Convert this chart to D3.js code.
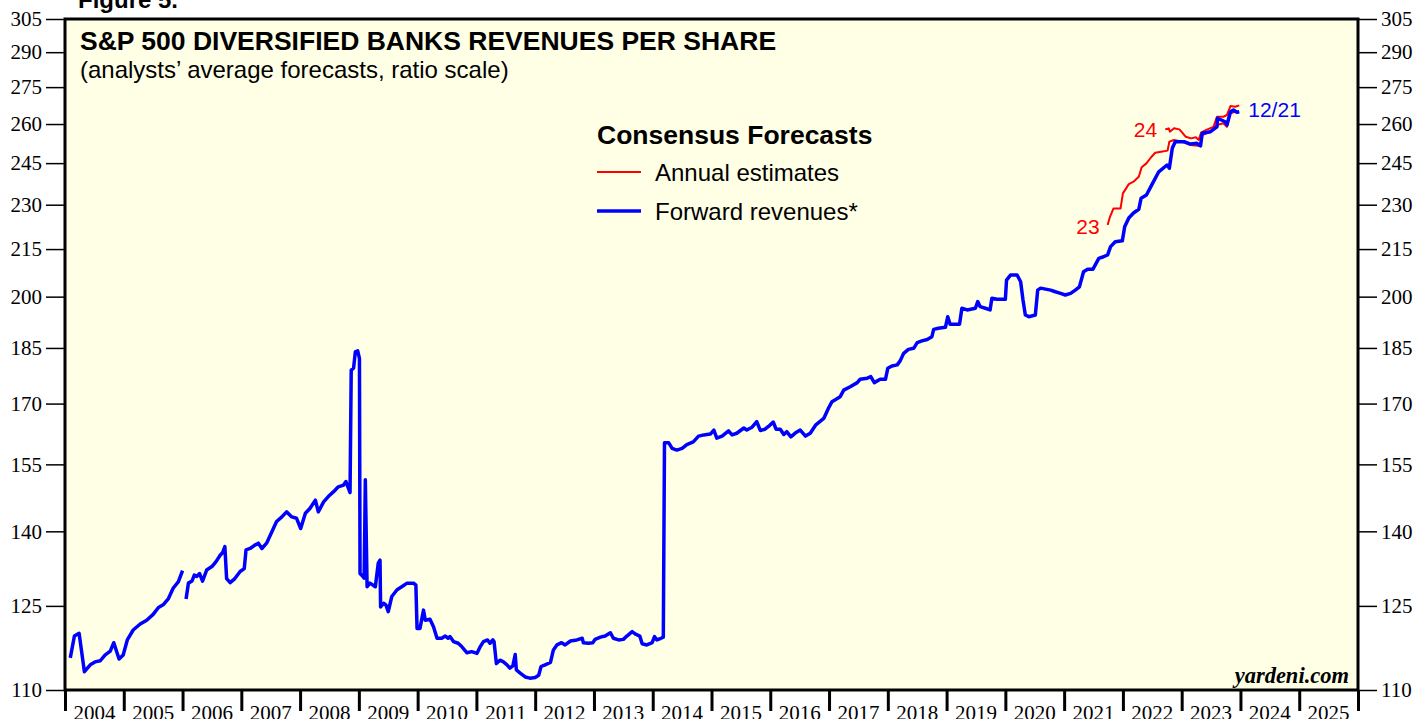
<!DOCTYPE html>
<html lang="en">
<head>
<meta charset="UTF-8">
<title>S&amp;P 500 Diversified Banks Revenues per Share</title>
<script src="https://cdn.jsdelivr.net/npm/d3@7"></script>
<style>
  body { margin: 0; background: #fff; }
  text { font-family: "Liberation Sans", Arial, sans-serif; }
  .tick-lbl { font-family: "Liberation Serif", "Times New Roman", serif; font-size: 21px; }
</style>
</head>
<body>
<div id="chart"></div>
<script>

// forward revenues, [decimal year, value] - first piece ends at the 2006 break
var fwdPart1 = [
  [2004.09,115.5],[2004.16,119.4],[2004.24,119.9],[2004.33,113.1],[2004.43,114.3],[2004.51,114.8],
  [2004.60,115.0],[2004.68,116.0],[2004.77,116.7],[2004.83,118.2],[2004.92,115.3],[2004.99,116.0],
  [2005.06,118.7],[2005.16,120.5],[2005.28,121.6],[2005.39,122.3],[2005.50,123.4],[2005.59,124.7],
  [2005.67,125.2],[2005.76,126.4],[2005.84,128.4],[2005.93,129.7],[2006.00,131.9]
];

var fwdPart2 = [
  [2006.06,126.3],[2006.10,129.4],[2006.16,129.8],[2006.20,131.0],[2006.24,130.7],[2006.29,131.3],
  [2006.34,129.8],[2006.41,132.0],[2006.50,132.7],[2006.57,133.7],[2006.64,135.0],[2006.68,135.5],
  [2006.72,136.8],[2006.75,130.3],[2006.81,129.5],[2006.89,130.3],[2006.98,131.7],[2007.05,132.3],
  [2007.08,136.1],[2007.15,136.4],[2007.23,137.1],[2007.29,137.5],[2007.35,136.4],[2007.43,137.5],
  [2007.52,139.9],[2007.60,142.1],[2007.69,143.1],[2007.77,144.2],[2007.86,143.1],[2007.94,142.8],
  [2008.01,140.6],[2008.09,143.9],[2008.17,145.0],[2008.26,146.8],[2008.31,144.2],[2008.40,146.4],
  [2008.48,147.6],[2008.57,148.7],[2008.65,149.8],[2008.74,150.2],[2008.78,151.0],[2008.85,148.5],
  [2008.87,178.9],[2008.91,179.4],[2008.94,183.9],[2008.98,184.2],[2009.01,182.1],[2009.02,131.3],
  [2009.07,130.7],[2009.09,130.4],[2009.11,151.4],[2009.14,128.7],[2009.19,129.4],[2009.28,128.7],
  [2009.33,133.4],[2009.36,134.0],[2009.37,124.8],[2009.42,125.5],[2009.46,125.2],[2009.50,123.9],
  [2009.56,126.8],[2009.65,128.1],[2009.73,128.7],[2009.82,129.4],[2009.93,129.4],[2009.97,129.0],
  [2009.99,120.8],[2010.04,120.8],[2010.10,124.2],[2010.13,122.3],[2010.21,122.5],[2010.27,121.1],
  [2010.33,119.0],[2010.41,119.0],[2010.47,119.4],[2010.52,119.0],[2010.55,119.3],[2010.61,118.4],
  [2010.69,118.1],[2010.75,117.5],[2010.84,116.4],[2010.92,116.6],[2011.01,116.3],[2011.06,117.4],
  [2011.12,118.4],[2011.19,118.7],[2011.23,118.1],[2011.28,118.7],[2011.30,118.4],[2011.34,114.5],
  [2011.40,115.1],[2011.46,114.8],[2011.52,114.3],[2011.57,113.7],[2011.62,114.1],[2011.66,116.1],
  [2011.68,113.4],[2011.74,112.9],[2011.83,112.2],[2011.91,112.0],[2012.00,112.1],[2012.06,112.5],
  [2012.10,114.0],[2012.17,114.3],[2012.26,114.7],[2012.31,116.9],[2012.37,117.8],[2012.45,118.2],
  [2012.51,117.8],[2012.60,118.5],[2012.71,118.7],[2012.80,119.0],[2012.82,118.2],[2012.91,118.1],
  [2012.98,118.2],[2013.02,118.8],[2013.11,119.2],[2013.19,119.4],[2013.28,120.0],[2013.33,119.0],
  [2013.42,118.7],[2013.50,118.8],[2013.56,119.4],[2013.65,120.2],[2013.70,119.8],[2013.78,119.4],
  [2013.82,118.0],[2013.90,117.8],[2013.99,118.2],[2014.03,119.3],[2014.07,118.7],[2014.14,119.0],
  [2014.18,119.2],[2014.20,160.2],[2014.27,160.2],[2014.33,158.8],[2014.41,158.4],[2014.50,158.8],
  [2014.58,159.7],[2014.69,160.4],[2014.78,161.8],[2014.87,162.1],[2014.98,162.3],[2015.04,163.3],
  [2015.09,161.3],[2015.18,161.8],[2015.29,163.1],[2015.35,162.1],[2015.43,162.5],[2015.55,163.8],
  [2015.60,163.3],[2015.69,164.0],[2015.77,165.4],[2015.83,163.2],[2015.91,163.5],[2015.97,164.2],
  [2016.05,165.3],[2016.10,163.5],[2016.17,163.5],[2016.23,162.2],[2016.28,162.9],[2016.35,161.6],
  [2016.43,162.6],[2016.51,163.3],[2016.60,161.8],[2016.68,162.5],[2016.77,164.5],[2016.91,166.2],
  [2016.99,168.8],[2017.05,170.5],[2017.19,171.8],[2017.25,173.5],[2017.36,174.4],[2017.48,175.5],
  [2017.53,176.4],[2017.65,176.7],[2017.71,177.1],[2017.77,175.5],[2017.87,176.4],[2017.96,176.4],
  [2018.00,179.4],[2018.07,180.0],[2018.16,180.3],[2018.21,181.4],[2018.27,183.5],[2018.35,184.6],
  [2018.44,184.9],[2018.50,186.5],[2018.58,187.0],[2018.67,187.4],[2018.75,188.2],[2018.78,190.3],
  [2018.86,190.6],[2018.98,190.9],[2019.02,194.0],[2019.06,191.8],[2019.22,191.8],[2019.26,196.5],
  [2019.35,196.0],[2019.49,196.5],[2019.53,198.5],[2019.57,197.0],[2019.66,196.5],[2019.74,196.0],
  [2019.77,199.5],[2019.86,199.2],[2020.00,199.2],[2020.02,205.1],[2020.09,206.7],[2020.20,206.7],
  [2020.26,204.6],[2020.30,199.0],[2020.34,194.5],[2020.40,194.0],[2020.51,194.5],[2020.55,202.0],
  [2020.60,202.6],[2020.77,202.0],[2020.85,201.5],[2020.94,201.0],[2021.02,200.5],[2021.11,201.0],
  [2021.19,202.0],[2021.26,203.0],[2021.33,207.7],[2021.40,208.5],[2021.49,208.5],[2021.53,209.9],
  [2021.59,212.0],[2021.67,212.5],[2021.74,213.1],[2021.79,215.8],[2021.87,217.4],[2021.99,217.7],
  [2022.03,222.4],[2022.10,225.4],[2022.18,227.1],[2022.27,228.4],[2022.31,232.3],[2022.40,233.4],
  [2022.48,236.6],[2022.61,241.8],[2022.75,244.3],[2022.79,243.1],[2022.84,250.6],[2022.89,253.1],
  [2023.04,253.1],[2023.15,252.2],[2023.26,252.5],[2023.32,251.5],[2023.35,256.4],[2023.49,257.0],
  [2023.60,258.9],[2023.61,262.3],[2023.74,260.9],[2023.77,259.6],[2023.83,264.9],[2023.88,265.6],
  [2023.94,264.7],[2023.98,264.9]
];

// annual estimates
var est2023 = [
  [2021.74,223.0],[2021.78,225.8],[2021.84,228.7],[2021.96,228.7],[2022.00,234.0],[2022.10,237.3],
  [2022.18,238.2],[2022.27,240.0],[2022.32,243.5],[2022.40,244.9],[2022.48,247.2],[2022.55,248.9],
  [2022.65,249.3],[2022.76,249.7],[2022.79,253.1],[2022.87,253.8],[2023.01,253.1],[2023.15,251.8],
  [2023.32,251.5],[2023.35,255.7],[2023.49,257.0],[2023.60,259.6],[2023.71,260.3],[2023.77,258.9],
  [2023.83,264.3],[2023.91,264.9]
];

var est2024 = [
  [2022.72,257.9],[2022.78,258.3],[2022.80,257.0],[2022.87,258.3],[2022.96,257.9],[2023.01,256.6],
  [2023.07,255.0],[2023.16,254.4],[2023.24,254.8],[2023.29,253.8],[2023.33,256.6],[2023.42,257.7],
  [2023.54,258.9],[2023.60,262.9],[2023.71,262.9],[2023.77,263.6],[2023.83,267.2],[2023.91,266.9],
  [2023.98,267.5]
];

var yTicks = [110, 125, 140, 155, 170, 185, 200, 215, 230, 245, 260, 275, 290, 305];
var years = d3.range(2004, 2026);

var w = 1416;
var h = 719;
var plotL = 65, plotR = 1358, plotT = 19, plotB = 690;

var svg = d3.select("#chart")
    .append("svg")
    .attr("width", w)
    .attr("height", h);

var x = d3.scaleLinear().domain([2004, 2026]).range([plotL, plotR]);
var y = d3.scaleLog().domain([110, 305]).range([plotB, plotT]);

// plot background
svg.append("rect")
    .attr("x", plotL).attr("y", plotT)
    .attr("width", plotR - plotL).attr("height", plotB - plotT)
    .attr("fill", "#ffffe6");

svg.append("text")
    .attr("x", 78).attr("y", 8)
    .style("font-size", "24px").style("font-weight", "bold")
    .text("Figure 5.");

// y axes
var yLeft = d3.axisLeft(y).tickValues(yTicks).tickFormat(d3.format("d")).tickSize(18).tickPadding(4);
var yRight = d3.axisRight(y).tickValues(yTicks).tickFormat(d3.format("d")).tickSize(18).tickPadding(4);

var gl = svg.append("g").attr("transform", "translate(" + (plotL - 1) + ",0)").call(yLeft);
var gr = svg.append("g").attr("transform", "translate(" + (plotR + 1) + ",0)").call(yRight);
[gl, gr].forEach(function(g) {
    g.select(".domain").remove();
    g.selectAll("line").attr("stroke", "#000").attr("stroke-width", 1.5);
    g.selectAll("text").attr("class", "tick-lbl").attr("fill", "#000");
});

// x axis: ticks at year boundaries, labels mid-year
var xAxis = d3.axisBottom(x).tickValues(d3.range(2004, 2027)).tickSize(20).tickFormat("");
var gx = svg.append("g").attr("transform", "translate(0," + (plotB + 1) + ")").call(xAxis);
gx.select(".domain").remove();
gx.selectAll("line").attr("stroke", "#000").attr("stroke-width", 3);

svg.append("g").selectAll("text")
    .data(years)
    .enter()
    .append("text")
    .attr("class", "tick-lbl")
    .attr("x", function(d) { return x(d + 0.5); })
    .attr("y", 720)
    .attr("text-anchor", "middle")
    .text(function(d) { return d; });

// lines
var line = d3.line()
    .x(function(d) { return x(d[0]); })
    .y(function(d) { return y(d[1]); });

var plot = svg.append("g");

[est2023, est2024].forEach(function(s) {
    plot.append("path")
        .attr("d", line(s))
        .attr("fill", "none")
        .attr("stroke", "#ff0000")
        .attr("stroke-width", 2)
        .attr("stroke-linejoin", "round");
});

[fwdPart1, fwdPart2].forEach(function(s) {
    plot.append("path")
        .attr("d", line(s))
        .attr("fill", "none")
        .attr("stroke", "#0000ff")
        .attr("stroke-width", 3.5)
        .attr("stroke-linejoin", "round");
});

// end labels
svg.append("text")
    .attr("x", x(est2023[0][0]) - 8).attr("y", y(est2023[0][1]) + 9)
    .attr("text-anchor", "end").attr("fill", "#ff0000")
    .style("font-size", "21px").text("23");
svg.append("text")
    .attr("x", x(est2024[0][0]) - 8).attr("y", y(est2024[0][1]) + 8)
    .attr("text-anchor", "end").attr("fill", "#ff0000")
    .style("font-size", "21px").text("24");
var lastFwd = fwdPart2[fwdPart2.length - 1];
svg.append("text")
    .attr("x", x(lastFwd[0]) + 9).attr("y", y(lastFwd[1]) + 5)
    .attr("fill", "#0000ff")
    .style("font-size", "21px").text("12/21");

// frame
svg.append("rect")
    .attr("x", plotL).attr("y", plotT)
    .attr("width", plotR - plotL).attr("height", plotB - plotT)
    .attr("fill", "none").attr("stroke", "#000").attr("stroke-width", 3);

// titles
svg.append("text")
    .attr("x", 80).attr("y", 50)
    .style("font-size", "26.5px").style("font-weight", "bold")
    .text("S&P 500 DIVERSIFIED BANKS REVENUES PER SHARE");
svg.append("text")
    .attr("x", 80).attr("y", 78)
    .style("font-size", "24px")
    .text("(analysts\u2019 average forecasts, ratio scale)");

// legend
var lg = svg.append("g").attr("transform", "translate(597,0)");
lg.append("text").attr("x", 0).attr("y", 144)
    .style("font-size", "26.5px").style("font-weight", "bold")
    .text("Consensus Forecasts");
lg.append("line").attr("x1", 0).attr("x2", 44).attr("y1", 172).attr("y2", 172)
    .attr("stroke", "#ff0000").attr("stroke-width", 2);
lg.append("text").attr("x", 58).attr("y", 181)
    .style("font-size", "24px").text("Annual estimates");
lg.append("line").attr("x1", 0).attr("x2", 44).attr("y1", 211).attr("y2", 211)
    .attr("stroke", "#0000ff").attr("stroke-width", 3.5);
lg.append("text").attr("x", 58).attr("y", 220)
    .style("font-size", "24px").text("Forward revenues*");

svg.append("text")
    .attr("x", 1349).attr("y", 683)
    .attr("text-anchor", "end")
    .style("font-family", "'Liberation Serif', 'Times New Roman', serif")
    .style("font-size", "22.5px").style("font-weight", "bold").style("font-style", "italic")
    .text("yardeni.com");

</script>
</body>
</html>
